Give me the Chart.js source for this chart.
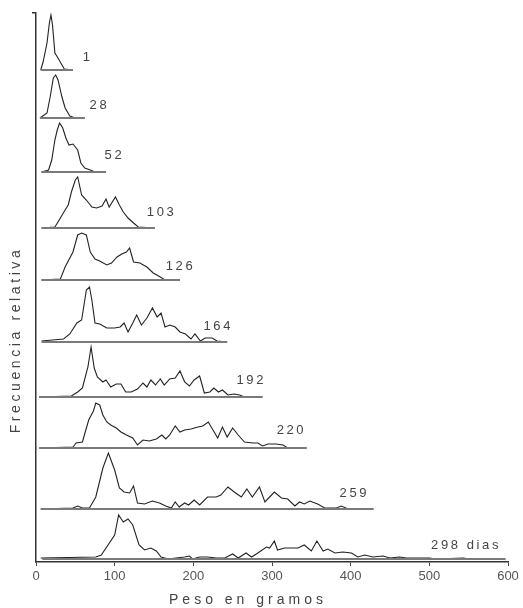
<!DOCTYPE html>
<html>
<head>
<meta charset="utf-8">
<script src="https://cdn.jsdelivr.net/npm/chart.js@4.4.0/dist/chart.umd.min.js"></script>
<style>
html,body{margin:0;padding:0;background:#fff;}
canvas{display:block;}
</style>
</head>
<body>
<canvas id="c" width="523" height="608"></canvas>
<script>
// Ages (days) of each distribution
const dias = ['1','28','52','103','126','164','192','220','259','298 dias'];
// Weight (g) and relative frequency readings for each age
const peso1 = [6,9,14,17,19,21,24,28,33,36,47];
const frec1 = [0,8,27,47,55,45,17,12,5,1,0];
const peso28 = [5,14,18,22,25,28,33,37,43,50,62];
const frec28 = [0,5,21,40,43,38,21,10,2,0,0];
const peso52 = [7,16,20,24,27,30,34,38,42,47,53,57,62,69,75,89];
const frec52 = [0,2,12,32,42,49,44,34,27,28,22,9,4,2,0,0];
const peso103 = [7,24,31,37,41,45,50,53,58,64,71,77,84,89,93,101,106,111,117,124,130,151];
const frec103 = [0,1,10,18,23,36,48,51,33,28,21,20,22,29,21,31,23,16,10,5,1,0];
const peso126 = [7,31,37,43,47,53,58,64,69,75,81,90,96,103,109,115,119,124,132,141,149,158,164,183];
const frec126 = [0,1,13,22,28,45,47,45,28,21,19,15,17,23,26,28,32,18,17,13,7,3,0,0];
const peso164 = [7,35,43,52,58,64,68,71,75,81,90,100,107,112,117,123,128,134,141,148,154,159,164,170,177,183,190,197,202,209,215,224,230,243];
const frec164 = [1,3,8,19,22,52,55,42,19,18,14,14,15,19,10,19,27,17,24,34,25,29,15,17,15,10,8,3,8,1,4,4,1,0];
const peso192 = [4,45,53,59,66,70,74,78,85,89,95,102,108,114,121,129,136,141,146,152,158,163,170,177,183,189,195,201,208,214,221,226,232,237,244,252,259,265,288];
const frec192 = [0,1,5,9,30,50,29,20,15,17,10,13,13,5,5,8,14,10,17,12,18,12,18,19,26,15,11,17,21,4,5,9,5,7,2,3,2,0,0];
const peso220 = [4,47,51,59,67,73,76,81,85,90,95,102,108,115,123,129,136,144,153,160,165,170,177,183,189,197,206,212,219,225,231,237,243,250,257,265,276,282,288,295,305,314,320,344];
const frec220 = [0,1,5,6,28,37,45,43,33,26,23,20,16,13,10,3,8,7,9,13,9,13,22,16,18,19,21,22,26,18,10,21,11,20,13,6,5,5,2,4,4,3,0,0];
const peso259 = [6,47,53,59,68,76,85,92,100,106,112,119,124,129,138,148,157,165,172,177,182,189,194,201,208,218,229,235,244,252,261,268,275,284,291,297,303,312,320,329,335,341,348,358,367,382,388,397,429];
const frec259 = [0,1,3,1,1,12,41,56,39,21,17,16,23,6,5,8,6,3,1,7,2,6,4,9,4,12,12,14,22,17,12,20,12,22,7,12,17,11,10,3,7,5,8,5,1,1,3,0,0];
const peso298 = [6,76,83,100,105,111,117,123,131,138,146,153,159,168,178,189,195,199,208,218,229,240,250,257,267,274,282,293,297,303,307,316,322,333,341,350,357,365,371,380,390,401,409,418,428,441,450,462,471,500,509,543,551,594];
const frec298 = [1,2,4,24,44,37,40,34,14,9,11,8,2,0,1,2,3,0,2,2,1,1,5,1,6,2,6,12,11,18,9,11,11,11,14,8,18,8,10,6,7,6,2,4,2,3,1,2,1,1,0,1,0,0];
// x-axis tick labels
const pesoTicks = [0,100,200,300,400,500,600];

// Ridge layout (vertical stacking offsets, baseline extents, label anchors)
const offsets = [492,444,390,334,282,220,165,114,53,3];
const baseStart = [6,5,7,7,7,7,4,4,6,8];
const baseEnd = [47,62,89,151,183,243,288,344,429,597];
const labelPeso = [64,79,98,158,182,230,272,323,403,545];
const labelDy = [13,13,17,16,14,16,17,18,16,14];

const pesos = [peso1,peso28,peso52,peso103,peso126,peso164,peso192,peso220,peso259,peso298];
const frecs = [frec1,frec28,frec52,frec103,frec126,frec164,frec192,frec220,frec259,frec298];

const datasets = [];
dias.forEach((d, i) => {
  datasets.push({
    label: 'base ' + d,
    data: [{x: baseStart[i], y: offsets[i]}, {x: baseEnd[i], y: offsets[i]}],
    borderColor: '#7a7a7a',
    borderWidth: 2,
    pointRadius: 0,
    tension: 0
  });
  datasets.push({
    label: d,
    data: pesos[i].map((p, j) => ({x: p, y: offsets[i] + frecs[i][j]})),
    borderColor: '#222',
    borderWidth: 1.1,
    pointRadius: 0,
    tension: 0
  });
});

const FONT = '"Liberation Sans", Arial, sans-serif';

const labelsPlugin = {
  id: 'ridgeLabels',
  afterDatasetsDraw(chart) {
    const {ctx, scales: {x, y}} = chart;
    ctx.save();
    ctx.fillStyle = '#444';
    ctx.font = '13px ' + FONT;
    ctx.textAlign = 'center';
    ctx.textBaseline = 'middle';
    ctx.letterSpacing = '2.6px';
    dias.forEach((d, i) => {
      ctx.fillText(d, x.getPixelForValue(labelPeso[i]) + 1.3, y.getPixelForValue(offsets[i] + labelDy[i]));
    });
    ctx.restore();
  },
  afterDraw(chart) {
    const {ctx} = chart;
    ctx.save();
    ctx.fillStyle = '#444';
    ctx.font = '14px ' + FONT;
    ctx.textAlign = 'center';
    ctx.textBaseline = 'middle';
    ctx.letterSpacing = '4px';
    ctx.fillText('Peso en gramos', 248, 600);
    ctx.letterSpacing = '3.6px';
    ctx.translate(16, 340);
    ctx.rotate(-Math.PI / 2);
    ctx.fillText('Frecuencia relativa', 0, 0);
    ctx.restore();
  }
};

new Chart(document.getElementById('c'), {
  type: 'line',
  data: {datasets},
  options: {
    responsive: false,
    animation: false,
    layout: {padding: {left: 36, right: 15, top: 13, bottom: 0}},
    plugins: {legend: {display: false}, tooltip: {enabled: false}, title: {display: false}},
    scales: {
      x: {
        type: 'linear',
        min: 0, max: 600,
        afterFit: s => { s.height = 46; },
        afterBuildTicks: s => { s.ticks = pesoTicks.map(v => ({value: v})); },
        ticks: {color: '#555', font: {family: FONT, size: 13}, padding: 3, maxRotation: 0},
        grid: {display: true, drawOnChartArea: false, drawTicks: true, tickLength: 4, color: '#444'},
        border: {display: true, color: '#333', width: 1.5}
      },
      y: {
        type: 'linear',
        min: 0, max: 549,
        afterFit: s => { s.width = 0; },
        afterBuildTicks: s => { s.ticks = [{value: 549}]; },
        ticks: {display: false},
        grid: {display: true, drawOnChartArea: false, drawTicks: true, tickLength: 4, color: '#333', lineWidth: 1.5},
        border: {display: true, color: '#333', width: 1.5}
      }
    }
  },
  plugins: [labelsPlugin]
});
</script>
</body>
</html>
